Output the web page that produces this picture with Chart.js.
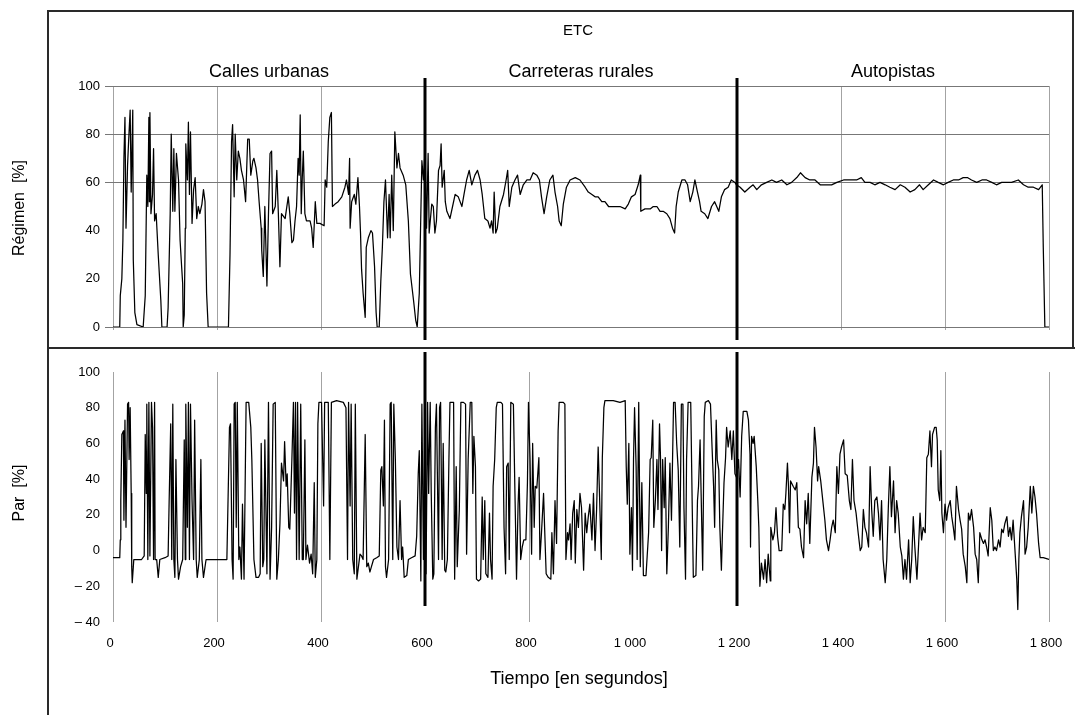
<!DOCTYPE html>
<html>
<head>
<meta charset="utf-8">
<script src="https://cdn.jsdelivr.net/npm/chart.js@4/dist/chart.umd.min.js"></script>
<style>
  body { margin: 0; background: #fff; }
  #page { position: relative; width: 1075px; height: 715px; overflow: hidden; font-family: "Liberation Sans", Arial, sans-serif; color: #000; }
  .panel { position: absolute; left: 0; width: 1075px; }
  .rule { position: absolute; background: #2a2a2a; }
  .ytitle { position: absolute; white-space: pre; font-size: 16px; transform: translate(-50%, -50%) rotate(-90deg); }
  .xtitle { position: absolute; white-space: pre; font-size: 18px; transform: translate(-50%, -50%); }
</style>
</head>
<body>
<div id="page">
  <div class="panel" style="top:0;height:347px"><canvas id="regimen" width="1075" height="347"></canvas></div>
  <div class="panel" style="top:347px;height:368px"><canvas id="par" width="1075" height="368"></canvas></div>

  <div class="rule" style="left:47px;top:10px;width:1.5px;height:705px"></div>
  <div class="rule" style="left:47px;top:10px;width:1026px;height:1.5px"></div>
  <div class="rule" style="left:47px;top:347px;width:1028px;height:1.5px"></div>
  <div class="rule" style="left:1072px;top:10px;width:1.5px;height:338px"></div>

  <div class="ytitle" style="left:19px;top:208px">Régimen  [%]</div>
  <div class="ytitle" style="left:19px;top:493px">Par  [%]</div>
  <div class="xtitle" style="left:579px;top:678px">Tiempo [en segundos]</div>
</div>

<script>
// Régimen (engine speed, %)
const regimenT = [0, 13, 14, 17, 19, 21, 23, 25, 28, 30, 33, 35, 38, 39, 42, 46, 58,
  62, 65, 67, 69, 70, 71, 73, 76, 78, 80, 83, 87, 92, 94, 104,
  106, 110, 112, 115, 117, 119, 122, 126, 129, 132, 134, 135, 137, 139, 140, 143, 145, 147, 149, 152, 155, 158, 161, 164, 167, 171, 174, 177, 180, 183,
  222, 225, 228, 230, 233, 235, 238, 241, 244, 247, 251, 255, 259, 262, 265, 269, 271, 275, 278, 281, 285,
  286, 289, 292, 296, 299, 302, 305, 307, 312, 315, 318, 321, 324, 331, 337, 340, 344, 347, 350, 353, 356, 358, 360, 362, 364, 366, 369, 372, 379, 382, 385, 389, 392, 398,
  406, 408, 411, 414, 417, 420, 422, 427, 433, 440, 446, 449, 453, 455, 456, 459, 464, 467, 471, 474, 476, 478, 481, 485, 487, 491, 496, 499,
  503, 506, 508, 512, 515, 518, 521, 524, 528, 531, 533, 536, 539, 542, 546, 549, 552, 558, 563, 568, 572, 578, 582, 585, 589,
  594, 597, 600, 603, 606, 608, 613, 616, 619, 622, 626, 629, 631, 633, 637, 639, 642, 648, 653, 658, 664, 671, 675, 680, 685, 690, 696,
  701, 706, 710, 715, 721, 725, 728, 731, 733, 736, 739, 744, 751, 756, 759, 762, 767, 773, 778, 783, 789, 796,
  802, 808, 815, 820, 824, 829, 834, 840, 846, 850, 855, 858, 862, 866, 872, 879, 889, 898,
  908, 914, 921, 927, 933, 940, 946, 953, 962, 975, 985, 991, 997,
  1004, 1010, 1014, 1015, 1023, 1033, 1039, 1046, 1052, 1058, 1065, 1071, 1076, 1080, 1083, 1087, 1094,
  1100, 1105, 1110, 1115, 1119, 1124, 1128, 1131, 1138, 1144, 1151, 1157, 1165, 1170, 1176, 1183, 1189, 1196, 1199,
  1206, 1215, 1225, 1231, 1238, 1247, 1257, 1267, 1276, 1286, 1296,
  1305, 1315, 1322, 1331, 1340, 1350, 1360, 1372, 1382, 1392,
  1405, 1417, 1430, 1439, 1446, 1456, 1465, 1475, 1485, 1494,
  1504, 1514, 1523, 1533, 1542, 1551, 1558, 1568, 1578, 1587, 1597,
  1606, 1616, 1626, 1635, 1643, 1651, 1661, 1671, 1680, 1690, 1699,
  1709, 1719, 1728, 1741, 1751, 1760, 1770, 1780, 1787, 1789, 1792, 1800];
const regimenV = [0, 0, 13, 20, 36, 70, 87, 41, 67, 77, 90, 56, 90, 28, 6, 1, 0,
  13, 63, 50, 87, 52, 89, 47, 55, 74, 44, 47, 30, 11, 0, 0,
  8, 47, 80, 48, 74, 48, 72, 61, 36, 25, 18, 0, 5, 41, 76, 61, 85, 55, 81, 43, 57, 62, 45, 50, 47, 51, 57, 52, 14, 0,
  0, 30, 77, 84, 54, 80, 61, 73, 70, 65, 61, 52, 78, 78, 63, 69, 70, 66, 61, 52, 41,
  32, 21, 50, 17, 47, 72, 73, 47, 50, 65, 47, 25, 47, 45, 54, 47, 35, 36, 44, 50, 70, 63, 88, 47, 62, 73, 47, 44, 44, 41, 33, 52, 43, 43,
  42, 61, 58, 77, 87, 89, 50, 51, 52, 54, 58, 61, 55, 70, 41, 52, 55, 51, 62, 50, 39, 24, 14, 4, 33, 37, 40, 39,
  25, 6, 0, 0, 19, 33, 52, 61, 37, 55, 37, 63, 40, 81, 66, 72, 66, 63, 59, 44, 22, 11, 3, 0, 14,
  69, 61, 73, 41, 72, 39, 51, 50, 39, 44, 65, 67, 76, 58, 65, 52, 48, 45, 50, 55, 54, 50, 55, 61, 65, 59, 63,
  65, 61, 55, 45, 44, 41, 44, 39, 56, 39, 41, 50, 55, 61, 65, 50, 58, 61, 63, 55, 59, 61,
  61, 64, 63, 61, 54, 47, 54, 61, 63, 56, 50, 44, 42, 51, 58, 61, 62, 61,
  58, 56, 55, 54, 54, 52, 52, 50, 50, 50, 49, 51, 54,
  55, 59, 63, 48, 49, 49, 50, 50, 48, 48, 47, 45, 41, 39, 50, 56, 61,
  61, 59, 52, 56, 61, 56, 52, 48, 47, 45, 50, 52, 48, 54, 57, 58, 61, 60, 59,
  58, 56, 58, 59, 57, 59, 60, 61, 60, 61, 59,
  60, 62, 64, 62, 61, 61, 59, 59, 59, 60,
  61, 61, 61, 62, 60, 60, 59, 60, 59, 58,
  57, 59, 58, 56, 57, 59, 57, 59, 61, 60, 59,
  60, 61, 61, 62, 62, 61, 60, 61, 61, 60, 59,
  60, 60, 60, 61, 59, 58, 58, 57, 59, 33, 0, 0];

// Par (torque, %)
const parT = [0, 13, 14, 15, 17, 20, 21, 23, 25, 28, 30, 31, 33, 35, 36, 37, 40, 46, 55, 60,
  62, 64, 65, 67, 69, 71, 74, 76, 78, 80, 81, 84, 87, 90, 100, 106, 108, 111, 113, 115, 117, 119,
  121, 124, 126, 130, 134, 137, 139, 140, 143, 145, 147, 149, 152, 155, 157, 160, 162, 166, 169, 171, 174, 179, 187,
  219, 224, 226, 229, 231, 233, 235, 237, 239, 242, 244, 247, 249, 252, 256, 261, 265, 267, 271, 275, 280, 283, 285, 288, 290, 292, 296, 299,
  302, 305, 308, 312, 315, 318, 321, 324, 328, 330, 333, 335, 338, 340, 344, 347, 349, 351, 353, 355, 358, 361, 364, 366, 369, 371, 374, 378,
  381, 384, 387, 389, 392, 394, 396, 401, 405, 407, 411, 414, 417, 420, 430, 443, 448, 451, 453, 456, 458, 461, 464, 466, 469, 472, 475, 478,
  481, 485, 488, 491, 494, 497, 501, 507, 512, 515, 517, 520, 522, 524, 526, 530, 533, 535, 538, 540, 543, 546, 549, 552, 555, 557, 560, 565, 568,
  574, 581, 584, 587, 589, 592, 594, 597, 600, 602, 605, 607, 610, 612, 615, 617, 620, 622, 626, 628, 630, 633, 635, 638, 640, 643, 646, 648, 655, 657,
  660, 662, 666, 669, 674, 678, 680, 683, 687, 690, 692, 694, 697, 699, 703, 707, 710, 712, 715, 717, 721, 724, 726, 729, 731, 734, 737, 739, 746, 749,
  752, 755, 757, 760, 762, 765, 770, 773, 776, 779, 781, 784, 787, 790, 794, 797, 799, 802, 805, 807, 810, 812, 815, 819, 821, 824, 828, 830, 833, 837,
  842, 844, 847, 850, 853, 856, 858, 866, 869, 871, 874, 876, 879, 881, 884, 887, 889, 892, 895, 898, 901, 905, 908, 911, 914, 917, 921, 924, 927, 930,
  933, 937, 939, 941, 944, 946, 962, 975, 985, 987, 989, 992, 994, 997, 999, 1001, 1003, 1006, 1008, 1011, 1014, 1017, 1020, 1025, 1030, 1033, 1035, 1038,
  1040, 1043, 1046, 1048, 1051, 1053, 1055, 1057, 1060, 1062, 1065, 1068, 1071, 1074, 1078, 1081, 1084, 1087, 1090, 1093, 1096, 1098, 1101, 1103, 1106,
  1111, 1114, 1116, 1121, 1124, 1126, 1129, 1131, 1134, 1137, 1139, 1145, 1149, 1152, 1155, 1157, 1160, 1162, 1165, 1167, 1170, 1172, 1175, 1178, 1180,
  1183, 1187, 1190, 1193, 1196, 1199, 1203, 1206, 1209, 1212, 1219, 1222, 1225, 1226, 1228, 1231, 1233, 1237, 1240, 1242, 1244, 1247, 1251, 1254, 1257,
  1260, 1264, 1265, 1269, 1272, 1275, 1278, 1281, 1286, 1289, 1292, 1294, 1297, 1299, 1301, 1303, 1308, 1312, 1315, 1318, 1321, 1324, 1328, 1331, 1334,
  1337, 1340, 1344, 1347, 1349, 1352, 1355, 1357, 1361, 1365, 1369, 1372, 1376, 1379, 1382, 1385, 1389, 1392, 1395, 1398, 1401, 1405, 1408, 1412, 1416,
  1419, 1422, 1425, 1429, 1433, 1437, 1440, 1443, 1446, 1449, 1453, 1456, 1459, 1462, 1465, 1469, 1472, 1475, 1478, 1481, 1485, 1488, 1491, 1494, 1497,
  1501, 1504, 1507, 1510, 1514, 1517, 1520, 1523, 1526, 1530, 1533, 1536, 1539, 1542, 1546, 1549, 1552, 1555, 1558, 1562, 1565, 1568, 1571, 1574, 1576,
  1580, 1583, 1585, 1587, 1590, 1592, 1594, 1597, 1600, 1603, 1606, 1610, 1613, 1616, 1619, 1622, 1626, 1629, 1632, 1635, 1639, 1642, 1645, 1648, 1651,
  1655, 1658, 1661, 1664, 1667, 1671, 1674, 1677, 1680, 1683, 1687, 1690, 1693, 1696, 1699, 1703, 1706, 1709, 1712, 1715, 1719, 1722, 1725, 1728, 1731,
  1735, 1738, 1740, 1742, 1744, 1747, 1751, 1754, 1757, 1760, 1764, 1767, 1770, 1773, 1776, 1780, 1783, 1789, 1800];
const parV = [-4, -4, 6, 28, 65, 67, 17, 73, 13, 82, 83, 51, 80, 32, -9, -18, -5, -5, -5, -3,
  65, 32, 82, -5, 83, -3, 83, 69, -5, 83, -5, -5, -15, -5, -4, -3, 28, 71, -5, 82, -5, -15,
  51, -5, -16, -9, -5, 62, -5, 82, 13, 83, -5, 82, 28, -5, 73, -5, -15, -5, 51, -5, -15, -5, -5,
  -5, 69, 71, -5, -16, 82, 83, 13, 83, -5, 2, -16, 26, -16, 83, 83, 69, 51, -5, -15, -15, -13, 60, -9, -5, 62, -13, 83,
  -16, 13, 82, 83, -16, -5, 15, 49, 39, 61, 36, 43, 13, 12, 51, 83, 21, 83, -5, 83, -5, 82, -5, -5, 62, -5, 3, -7,
  -2, -13, 38, -15, -5, 71, 83, 83, 25, 83, 83, 83, -5, 83, 84, 83, 80, -5, 83, 25, 82, -5, -13, 82, -16, -9, -2, -3,
  -5, 65, -9, -7, -12, -9, -5, -4, -3, 45, 47, 25, 73, -9, -15, -5, 82, 83, -5, 82, 51, 2, -5, 28, -5, 2, -15, -14, -5,
  -4, -3, 8, 43, 56, -17, 82, -5, 83, -13, 83, 32, 83, 32, -16, -13, 69, 82, -5, 80, 83, -5, 60, -11, -12, -5, 51, 83, 83, -16,
  47, -9, 23, 83, 83, 82, -2, 51, 83, 83, 32, 64, 47, -16, -17, -16, 30, -5, 28, -13, -15, 21, -5, -16, 36, 51, 80, 83, 83, 82,
  13, -13, 47, 49, -5, 83, 82, 32, -16, 26, 41, -5, 2, 6, 6, 38, 83, 51, -2, 60, 13, 36, 35, 52, -5, 10, 32, 13, -13, -15,
  -16, 10, -13, 28, 4, 67, 83, 83, 82, -5, 10, 6, 15, -5, 21, 28, -7, 23, 13, 32, 24, -11, 21, 10, 19, 26, 6, 32, 0, 23,
  58, 17, -5, 52, 80, 84, 84, 83, 84, 47, 26, 60, -2, 24, -11, 51, 80, 47, -5, 83, -9, 38, -14, -14, 10, 51, 52, 73,
  13, 28, 51, 23, 71, 51, 0, 51, 24, 52, -13, 13, 49, 17, 83, 83, 60, 45, 2, 82, 82, 24, -16, 51, 83,
  83, 23, -15, -14, 28, 36, 62, 32, -11, 75, 83, 84, 82, 58, 36, 13, 73, 51, 45, 13, -11, 10, 38, 52, 69,
  58, 67, 51, 67, 43, 41, 51, 30, 64, 78, 78, 73, 54, 2, 64, 60, 64, 47, 28, 13, -20, -7, -16, -5, -18,
  -2, -17, 13, 6, 10, 24, 8, 0, 0, 26, 23, 32, 49, 36, 10, 39, 36, 34, 38, 13, 12, 2, -4, 28, 15,
  32, 4, 41, 49, 69, 58, 39, 47, 39, 28, 17, 6, 0, 6, 13, 17, 10, 47, 32, 54, 58, 62, 43, 42, 28,
  23, 51, 28, 21, 10, 0, 2, 23, 13, 10, 2, 47, 23, 8, 28, 30, 21, 6, 28, -5, -18, -5, 24, 47, 19,
  39, 10, 28, 21, 2, -3, -16, -5, -16, 6, -18, -5, 19, 2, -16, 2, 21, 6, 13, 10, 52, 54, 67, 47, 65,
  69, 69, 62, 34, 28, 56, 21, 10, 26, 17, 24, 28, 19, 13, 6, 36, 23, 17, 12, -2, -9, -18, 21, 17, 23,
  13, -2, -5, -18, 10, 6, 4, 6, 2, -3, 24, 17, 0, 2, 0, 6, 2, 12, 10, 15, 19, 8, 13, 6, 17,
  -2, -16, -33, -5, 10, 19, 28, -2, 2, 13, 36, 21, 36, 30, 21, 4, -4, -4, -5];

// axes and annotations
const timeTicks = [0, 200, 400, 600, 800, 1000, 1200, 1400, 1600, 1800];
const timeTickLabels = ['0', '200', '400', '600', '800', '1 000', '1 200', '1 400', '1 600', '1 800'];
const parTicks = [-40, -20, 0, 20, 40, 60, 80, 100];
const parTickLabels = ['\u2013 40', '\u2013 20', '0', '20', '40', '60', '80', '100'];
const regimenGridValues = [0, 60, 80, 100];
const topTimeGrid = [0, 200, 400, 1400, 1600, 1800];
const bottomTimeGrid = [0, 200, 400, 800, 1600, 1800];
const sectionBounds = [0, 600, 1200, 1800];
const sectionNames = ['Calles urbanas', 'Carreteras rurales', 'Autopistas'];
const cycleName = 'ETC';

const FONT = '"Liberation Sans", Arial, sans-serif';
const CLEAR = 'rgba(0,0,0,0)';

function toPoints(ts, vs) {
  return ts.map((t, i) => ({ x: t, y: vs[i] }));
}

function timeLabel(value) {
  const i = timeTicks.indexOf(value);
  return i >= 0 ? timeTickLabels[i] : '';
}

// thick section dividers, plus section captions on the top panel
const sectionPlugin = {
  id: 'sections',
  afterDatasetsDraw(chart, args, opts) {
    const { ctx, chartArea, scales } = chart;
    ctx.save();
    ctx.strokeStyle = '#000';
    ctx.lineWidth = 3;
    sectionBounds.slice(1, -1).forEach(t => {
      const x = Math.round(scales.x.getPixelForValue(t));
      ctx.beginPath();
      ctx.moveTo(x, chartArea.top - opts.above);
      ctx.lineTo(x, chartArea.bottom + opts.below);
      ctx.stroke();
    });
    if (opts.captions) {
      ctx.fillStyle = '#000';
      ctx.textAlign = 'center';
      ctx.textBaseline = 'middle';
      ctx.font = '18px ' + FONT;
      sectionNames.forEach((name, i) => {
        const mid = (sectionBounds[i] + sectionBounds[i + 1]) / 2;
        ctx.fillText(name, scales.x.getPixelForValue(mid), chartArea.top - 14);
      });
      ctx.font = '15px ' + FONT;
      ctx.fillText(cycleName, (chartArea.left + chartArea.right) / 2 - 3, chartArea.top - 55);
    }
    ctx.restore();
  }
};

function lineDataset(ts, vs) {
  return {
    data: toPoints(ts, vs),
    borderColor: '#000',
    borderWidth: 1.25,
    borderJoinStyle: 'round',
    pointRadius: 0,
    tension: 0,
    fill: false
  };
}

const common = {
  responsive: false,
  animation: false,
  devicePixelRatio: 1,
  events: [],
  plugins: { legend: { display: false }, tooltip: { enabled: false } }
};

new Chart(document.getElementById('regimen'), {
  type: 'line',
  data: { datasets: [lineDataset(regimenT, regimenV)] },
  plugins: [sectionPlugin],
  options: {
    ...common,
    layout: { padding: { left: 63, right: 26, top: 86, bottom: 17 } },
    plugins: { ...common.plugins, sections: { above: 8, below: 13, captions: true } },
    scales: {
      x: {
        type: 'linear', min: 0, max: 1800,
        afterFit: s => { s.height = 3; },
        border: { display: false },
        grid: {
          tickLength: 3,
          color: c => topTimeGrid.includes(c.tick.value) ? '#a3a3a3' : CLEAR
        },
        ticks: { stepSize: 200, display: false }
      },
      y: {
        min: 0, max: 100,
        afterFit: s => { s.width = 50; },
        border: { display: false },
        grid: {
          tickLength: 8,
          color: c => regimenGridValues.includes(c.tick.value) ? '#777' : CLEAR
        },
        ticks: { stepSize: 20, padding: 5, color: '#000', font: { family: FONT, size: 13 } }
      }
    }
  }
});

new Chart(document.getElementById('par'), {
  type: 'line',
  data: { datasets: [lineDataset(parT, parV)] },
  plugins: [sectionPlugin],
  options: {
    ...common,
    layout: { padding: { left: 63, right: 26, top: 25, bottom: 63 } },
    plugins: { ...common.plugins, sections: { above: 20, below: -16, captions: false } },
    scales: {
      x: {
        type: 'linear', min: 0, max: 1800,
        // keep the plot width equal to the upper panel's
        afterFit: s => { s.height = 30; s.paddingLeft = 0; s.paddingRight = 0; },
        border: { display: false },
        grid: {
          drawTicks: false,
          color: c => bottomTimeGrid.includes(c.tick.value) ? '#a3a3a3' : CLEAR
        },
        ticks: {
          stepSize: 200, autoSkip: false, maxRotation: 0, padding: 14, labelOffset: -3,
          color: '#000', font: { family: FONT, size: 13 },
          callback: v => timeLabel(v)
        }
      },
      y: {
        min: -40, max: 100,
        afterFit: s => { s.width = 50; },
        border: { display: false },
        grid: { display: false, drawTicks: false },
        ticks: {
          stepSize: 20, padding: 13, color: '#000', font: { family: FONT, size: 13 },
          callback: v => {
            const i = parTicks.indexOf(v);
            return i >= 0 ? parTickLabels[i] : '';
          }
        }
      }
    }
  }
});
</script>
</body>
</html>
